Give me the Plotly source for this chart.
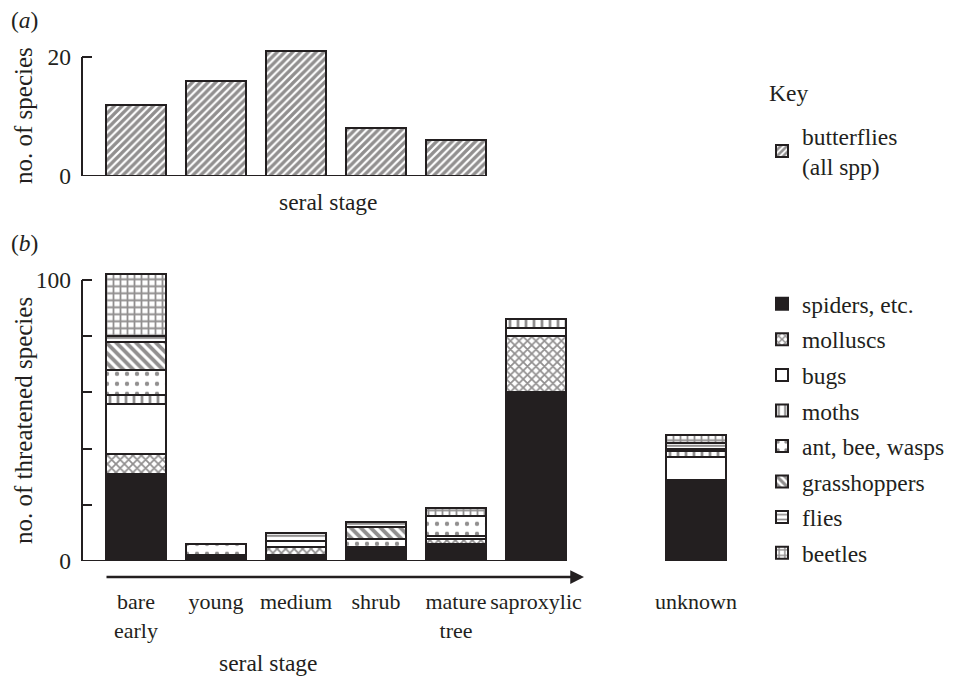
import plotly.graph_objects as go

# ---- data -------------------------------------------------------------
# (a) butterflies per seral stage
stages_a = ["bare early", "young", "medium", "shrub", "mature tree"]
butterflies = [12, 16, 21, 8, 6]

# (b) threatened species per seral stage, by group (None = group absent)
stages_b = ["bare<br>early", "young", "medium", "shrub", "mature<br>tree",
            "saproxylic", "unknown"]
spiders      = [31, 2, 2, 5, 6, 60, 28]
molluscs     = [7, None, 3, None, 2, 20, 1]
bugs         = [18, None, 2, None, 1, 3, 8]
moths        = [3, None, None, None, None, 3, 2]
ants         = [9, 4, None, 3, 7, None, 1]
grasshoppers = [10, None, None, 4, None, None, None]
flies        = [2, None, 3, 2, None, None, 2]
beetles      = [22, None, None, None, 3, None, 3]

# ---- styling ----------------------------------------------------------
INK = "#231f20"
FONT = "Liberation Serif, Times New Roman, serif"
FS = 23.5
BAR_W = 0.76
X_RANGE = [-0.675, 7.5]
W, H = 953, 680
L_PX, R_PX = 82, 736          # plot-area edges in pixels

# one empty slot separates "unknown" from the ordered stages
slots_a = list(range(len(stages_a)))
slots_b = list(range(len(stages_b) - 1)) + [len(stages_b)]

fig = go.Figure()

fig.add_trace(go.Bar(
    x=slots_a, y=butterflies, name="butterflies<br>(all spp)",
    xaxis="x", yaxis="y", width=BAR_W, legend="legend",
    marker=dict(color="white", line=dict(color=INK, width=2),
                pattern=dict(shape="/", fgcolor=INK, bgcolor="white",
                             size=5.5, solidity=0.6)),
    hoverinfo="skip",
))

groups = [
    ("spiders, etc.", spiders, dict(shape=""), INK),
    ("molluscs", molluscs, dict(shape="x", size=6, solidity=0.5), "white"),
    ("bugs", bugs, dict(shape=""), "white"),
    ("moths", moths, dict(shape="|", size=8, solidity=0.35), "white"),
    ("ant, bee, wasps", ants, dict(shape=".", size=10, solidity=0.15), "white"),
    ("grasshoppers", grasshoppers, dict(shape="\\", size=7, solidity=0.55), "white"),
    ("flies", flies, dict(shape="-", size=6, solidity=0.35), "white"),
    ("beetles", beetles, dict(shape="+", size=7, solidity=0.45), "white"),
]
for name, vals, pat, col in groups:
    p = dict(fgcolor=INK, bgcolor=col)
    p.update(pat)
    fig.add_trace(go.Bar(
        x=slots_b, y=vals, name=name, xaxis="x2", yaxis="y2",
        width=BAR_W, legend="legend2", legendgroup=name,
        marker=dict(color=col, line=dict(color=INK, width=2), pattern=p),
        hoverinfo="skip",
    ))


def py(px):
    return 1 - px / H


def px_x(px):
    return (px - L_PX) / (R_PX - L_PX)


axis_common = dict(showgrid=False, zeroline=False, showline=False,
                   automargin=False)
fig.update_layout(
    width=W, height=H,
    barmode="stack",
    plot_bgcolor="white", paper_bgcolor="white",
    margin=dict(l=L_PX, r=W - R_PX, t=0, b=0, autoexpand=False),
    font=dict(family=FONT, size=FS, color=INK),
    xaxis=dict(domain=[0, 1], range=X_RANGE, anchor="y",
               showticklabels=False, ticks="", **axis_common),
    yaxis=dict(domain=[py(176), py(45)], range=[0, 22], anchor="x",
               tickvals=[0, 20], ticks="inside", ticklen=10, tickwidth=2,
               tickcolor=INK, ticklabelstandoff=10, **axis_common),
    xaxis2=dict(domain=[0, 1], range=X_RANGE, anchor="y2",
                tickvals=slots_b, ticktext=stages_b, ticks="", tickangle=0,
                tickfont=dict(size=22),
                ticklabelstandoff=25, **axis_common),
    yaxis2=dict(domain=[py(561), py(268.8)], range=[0, 104], anchor="x2",
                tickvals=[0, 20, 40, 60, 80, 100],
                ticktext=["0", "", "", "", "", "100"],
                ticks="inside", ticklen=10, tickwidth=2, tickcolor=INK,
                ticklabelstandoff=10, **axis_common),
    legend=dict(x=px_x(762), xanchor="left", y=py(114), yanchor="top",
                font=dict(size=FS), bgcolor="rgba(0,0,0,0)"),
    legend2=dict(x=px_x(762), xanchor="left", y=py(282), yanchor="top",
                 traceorder="grouped", tracegroupgap=2,
                 font=dict(size=FS), bgcolor="rgba(0,0,0,0)"),
    showlegend=True,
)

# axis lines: y lines stop at the top tick, x lines stop at the last bar
line = dict(color=INK, width=2)
fig.add_shape(type="line", xref="x domain", yref="y", x0=0, x1=0,
              y0=0, y1=20, line=line)
fig.add_shape(type="line", xref="x", yref="y", x0=X_RANGE[0],
              x1=slots_a[-1] + BAR_W / 2, y0=0, y1=0, line=line)
fig.add_shape(type="line", xref="x2 domain", yref="y2", x0=0, x1=0,
              y0=0, y1=100, line=line)
fig.add_shape(type="line", xref="x2", yref="y2", x0=X_RANGE[0],
              x1=slots_b[5] - BAR_W / 2, y0=0, y1=0, line=line)

ann = dict(showarrow=False, xref="paper", yref="paper",
           xanchor="center", yanchor="middle",
           font=dict(family=FONT, size=FS, color=INK))
fig.add_annotation(text="(<i>a</i>)", x=px_x(24), y=py(20), **ann)
fig.add_annotation(text="(<i>b</i>)", x=px_x(24), y=py(243), **ann)
fig.add_annotation(text="Key", x=px_x(788), y=py(93), **ann)
fig.add_annotation(text="no. of species", x=px_x(23), y=py(116),
                   textangle=-90,
                   **{**ann, "font": dict(family=FONT, size=25, color=INK)})
fig.add_annotation(text="no. of threatened species", x=px_x(23), y=py(421),
                   textangle=-90,
                   **{**ann, "font": dict(family=FONT, size=25, color=INK)})
fig.add_annotation(text="seral stage", x=px_x(328), y=py(202), **ann)
fig.add_annotation(text="seral stage", x=px_x(268), y=py(663), **ann)
# direction-of-succession arrow beneath the stage axis
fig.add_annotation(text="", xref="paper", yref="paper",
                   x=px_x(584), y=py(577), axref="pixel", ayref="pixel",
                   ax=-479, ay=0, showarrow=True, arrowhead=2,
                   arrowsize=1.1, arrowwidth=2.5, arrowcolor=INK)

fig.write_html("out.html")
